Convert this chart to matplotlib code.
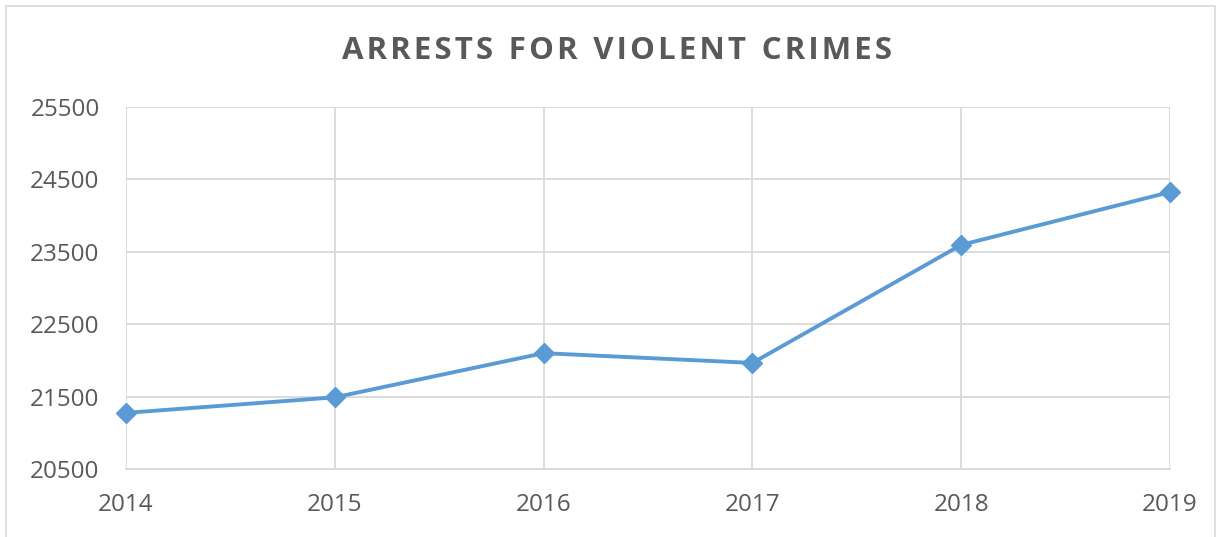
import matplotlib.pyplot as plt
from matplotlib.patches import Rectangle

years = [2014, 2015, 2016, 2017, 2018, 2019]
arrests = [21275, 21490, 22100, 21965, 23595, 24325]
y_ticks = [20500, 21500, 22500, 23500, 24500, 25500]
title = 'ARRESTS FOR VIOLENT CRIMES'

plt.rcParams['font.family'] = ['Open Sans', 'DejaVu Sans']

fig = plt.figure(figsize=(12.23, 5.37), dpi=100)
ax = fig.add_axes([126 / 1223, 1 - 469 / 537, (1170 - 126) / 1223, (469 - 107) / 537])

# outer chart border
fig.patches.append(Rectangle((6 / 1223, -0.02), (1215 - 6) / 1223, 1.02 - 6 / 537,
                             transform=fig.transFigure, fill=False,
                             edgecolor='#d9d9d9', linewidth=1.2))

ax.plot(years, arrests, color='#5b9bd5', linewidth=2.8, marker='D', markersize=10,
        zorder=3, clip_on=False)

ax.set_xlim(years[0], years[-1])
ax.set_ylim(y_ticks[0], y_ticks[-1])
ax.set_xticks(years)
ax.set_yticks(y_ticks)
ax.grid(True, color='#d9d9d9', linewidth=1.3)
ax.set_axisbelow(True)
for s in ['top', 'right', 'left']:
    ax.spines[s].set_visible(False)
ax.spines['bottom'].set_color('#d9d9d9')
ax.spines['bottom'].set_linewidth(1.3)
ax.tick_params(length=0, labelsize=17.5, labelcolor='#595959')
ax.tick_params(axis='y', pad=19)
ax.tick_params(axis='x', pad=17)

# spaced-out title, like the spreadsheet style
spaced = '\u2002'.join('\u200a'.join(w) for w in title.split(' '))
fig.text(617 / 1223, 1 - 51 / 537, spaced,
         ha='center', va='center', fontsize=22.5, fontweight='bold', color='#595959')

fig.savefig('out.png', dpi=100)
